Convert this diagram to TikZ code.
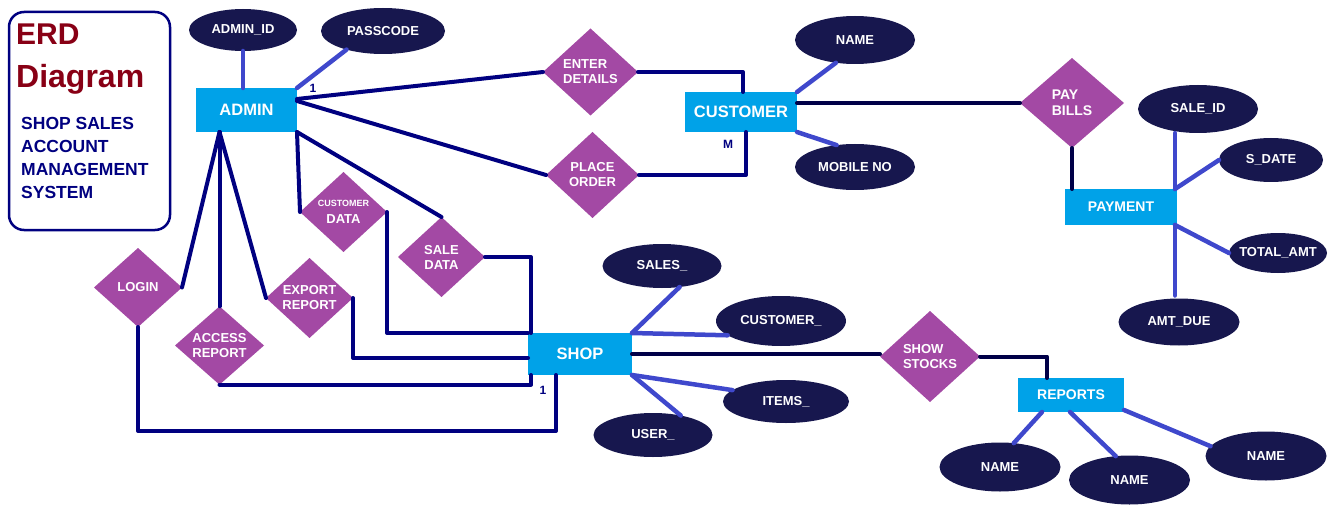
\documentclass[tikz,border=0pt]{standalone}
\usepackage{fontspec}
\setmainfont{Liberation Sans}
\usepackage{tikz}
\usetikzlibrary{shapes.geometric,calc}
\definecolor{entcyan}{RGB}{0,162,232}
\definecolor{relpurple}{RGB}{163,73,164}
\definecolor{attrnavy}{RGB}{23,23,78}
\definecolor{linkblue}{RGB}{63,72,204}
\definecolor{linknavy}{RGB}{0,0,128}
\definecolor{linkdark}{RGB}{0,0,72}
\definecolor{titlered}{RGB}{136,0,21}

\begin{document}
\begin{tikzpicture}[x=1pt, y=-1pt,
                entity/.style={rectangle, fill=entcyan, text=white, inner sep=0pt, outer sep=0pt,
                    font=\bfseries\fontsize{16.5}{18}\selectfont},
                rel/.style={diamond, fill=relpurple, text=white, inner sep=0pt, outer sep=0pt, align=center,
                    font=\bfseries\fontsize{13}{15}\selectfont},
                attr/.style={ellipse, fill=attrnavy, text=white, inner xsep=-12pt, inner ysep=0pt, outer sep=0pt,
                    font=\bfseries\fontsize{13}{15}\selectfont},
                link/.style={draw=linknavy, line width=4pt, line cap=round, line join=round},
                darklink/.style={draw=linkdark, line width=4pt, line cap=round, line join=round},
                attrlink/.style={draw=linkblue, line width=4.5pt, line cap=round},
                card/.style={text=linknavy, inner sep=0pt, font=\bfseries\fontsize{12}{14}\selectfont}]
                \useasboundingbox (0,0) rectangle (1334,532);
                % title frame
                \node[draw=linknavy, line width=2.5pt, rounded corners=15pt, minimum width=161pt, minimum height=218pt] (frame) at (89.5,121) {};
                \node[anchor=north west, inner sep=0pt, text=titlered, font=\bfseries\fontsize{30}{32}\selectfont] (erd) at (16,24) {ERD};
                \node[anchor=north west, inner sep=0pt, text=titlered, font=\bfseries\fontsize{32}{34}\selectfont] (diagram) at (16,64) {Diagram};
                \node[anchor=north west, inner sep=0pt, text=linknavy, align=left, font=\bfseries\fontsize{17.5}{23}\selectfont] (system) at (21,117) {SHOP SALES\\ACCOUNT\\MANAGEMENT\\SYSTEM};
                % entities
                \node[entity, minimum width=101pt, minimum height=44pt] (admin) at (246.5,110) {ADMIN};
                \node[entity, minimum width=112pt, minimum height=40pt] (customer) at (741,112) {CUSTOMER};
                \node[entity, minimum width=112pt, minimum height=36pt, font=\bfseries\fontsize{14}{16}\selectfont] (payment) at (1121,207) {PAYMENT};
                \node[entity, minimum width=104pt, minimum height=42pt] (shop) at (580,354) {SHOP};
                \node[entity, minimum width=106pt, minimum height=34pt, font=\bfseries\fontsize{14}{16}\selectfont] (reports) at (1071,395) {REPORTS};
                % relationships
                \node[rel, align=left, minimum width=95pt, minimum height=87pt] (enter) at (590.5,72) {ENTER\\DETAILS};
                \node[rel, minimum width=93pt, minimum height=86pt] (place) at (592.5,175) {PLACE\\ORDER};
                \node[rel, align=left, minimum width=104pt, minimum height=90pt, font=\bfseries\fontsize{14}{16}\selectfont] (paybills) at (1072,103) {PAY\\BILLS};
                \node[rel, minimum width=87pt, minimum height=80pt] (custdata) at (343.5,212) {{\fontsize{9}{11}\selectfont CUSTOMER}\\[2pt]DATA};
                \node[rel, minimum width=87pt, minimum height=80pt] (saledata) at (441.5,257) {SALE\\DATA};
                \node[rel, minimum width=88pt, minimum height=79pt] (login) at (138,287.5) {LOGIN};
                \node[rel, minimum width=89pt, minimum height=77pt] (access) at (219.5,345.5) {ACCESS\\REPORT};
                \node[rel, minimum width=87pt, minimum height=80pt] (export) at (309.5,298) {EXPORT\\REPORT};
                \node[rel, align=left, minimum width=100pt, minimum height=91pt] (showstocks) at (930,356.5) {SHOW\\STOCKS};
                % attributes
                \node[attr, minimum width=108pt, minimum height=42pt] (adminid) at (243,30) {ADMIN\_ID};
                \node[attr, minimum width=124pt, minimum height=46pt] (passcode) at (383,31) {PASSCODE};
                \node[attr, minimum width=120pt, minimum height=48pt] (name) at (855,40) {NAME};
                \node[attr, minimum width=120pt, minimum height=46pt] (mobile) at (855,167) {MOBILE NO};
                \node[attr, minimum width=120pt, minimum height=48pt] (saleid) at (1198,109) {SALE\_ID};
                \node[attr, minimum width=104pt, minimum height=44pt] (sdate) at (1271,160) {S\_DATE};
                \node[attr, minimum width=98pt, minimum height=40pt] (totalamt) at (1278,253) {TOTAL\_AMT};
                \node[attr, minimum width=121pt, minimum height=47pt] (amtdue) at (1179,322) {AMT\_DUE};
                \node[attr, minimum width=119pt, minimum height=44pt] (sales) at (662,266) {SALES\_};
                \node[attr, minimum width=130pt, minimum height=50pt] (cust2) at (781,321) {CUSTOMER\_};
                \node[attr, minimum width=126pt, minimum height=43pt] (items) at (786,401.5) {ITEMS\_};
                \node[attr, minimum width=119pt, minimum height=44pt] (user) at (653,435) {USER\_};
                \node[attr, minimum width=121pt, minimum height=49pt] (name1) at (1000,467) {NAME};
                \node[attr, minimum width=121pt, minimum height=49pt] (name2) at (1129.5,480) {NAME};
                \node[attr, minimum width=121pt, minimum height=49pt] (name3) at (1266,456) {NAME};
                % attribute links
                \draw[attrlink] (adminid.south) -- (adminid.south |- admin.north);
                \draw[attrlink] (passcode.207) -- (admin.north east);
                \draw[attrlink] (customer.north east) -- (name.230);
                \draw[attrlink] (customer.south east) -- (mobile.130);
                \draw[attrlink] ([xshift=-2pt]payment.north east) -- ([xshift=-2pt]payment.north east |- saleid.south);
                \draw[attrlink] ([xshift=-2pt]payment.north east) -- (sdate.west);
                \draw[attrlink] ([xshift=-2pt]payment.south east) -- (totalamt.west);
                \draw[attrlink] ([xshift=-2pt]payment.south east) -- ([xshift=-2pt,yshift=3pt]payment.south east |- amtdue.north);
                \draw[attrlink] (shop.north east) -- (sales.310);
                \draw[attrlink] (shop.north east) -- (cust2.195);
                \draw[attrlink] (shop.south east) -- (items.168);
                \draw[attrlink] (shop.south east) -- (user.35);
                \draw[attrlink] ([xshift=-29pt]reports.south) -- (name1.60);
                \draw[attrlink] ([xshift=-1pt]reports.south) -- (name2.120);
                \draw[attrlink] ([yshift=2pt]reports.south east) -- (name3.170);
                % relationship links
                \coordinate (abot) at ([xshift=-27pt]admin.south);
                \draw[link] ([yshift=11pt]admin.east) -- (enter.west);
                \draw[link] ([yshift=9pt]admin.east) -- (place.west);
                \draw[link] (enter.east) -| ([xshift=2pt]customer.north);
                \draw[link] (place.east) -| ([xshift=5pt]customer.south);
                \draw[darklink] (customer.east |- paybills.west) -- (paybills.west);
                \draw[darklink] (paybills.south) -- (paybills.south |- payment.north);
                \draw[link] (abot) -- (login.east);
                \draw[link] (abot) -- (access.north);
                \draw[link] (abot) -- (export.west);
                \draw[link] (admin.south east) -- (custdata.west);
                \draw[link] (admin.south east) -- (saledata.north);
                \draw[link] (custdata.east) |- (shop.north west);
                \draw[link] (saledata.east) -| ([xshift=3pt]shop.north west);
                \draw[link] (export.east) |- ([yshift=-4pt]shop.west);
                \draw[link] (access.south) -| ([xshift=3pt]shop.south west);
                \draw[link] (login.south) -- ++(0,104) -| ([xshift=28pt]shop.south west);
                \draw[darklink] (shop.east) -- (shop.east -| showstocks.west);
                \draw[darklink] (showstocks.east) -| ([xshift=-24pt]reports.north);
                % cardinalities
                \node[card] (one1) at (313,88) {1};
                \node[card] (many) at (728,144) {M};
                \node[card] (one2) at (543,390) {1};
            \end{tikzpicture}
\end{document}
